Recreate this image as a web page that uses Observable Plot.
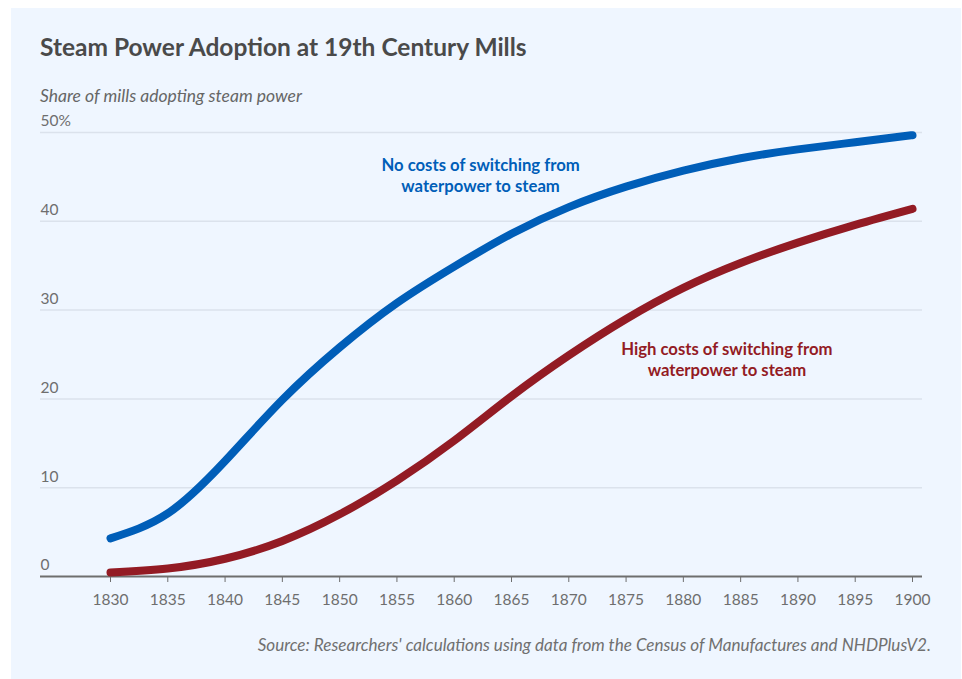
<!DOCTYPE html>
<html>
<head>
<meta charset="utf-8">
<script src="https://cdn.jsdelivr.net/npm/d3@7"></script>
<script src="https://cdn.jsdelivr.net/npm/@observablehq/plot@0.6"></script>
<style>
  html, body { margin: 0; padding: 0; background: #ffffff; }
  body { width: 962px; height: 679px; position: relative; overflow: hidden; font-family: Lato, "Noto Sans", sans-serif; }
  #panel { position: absolute; left: 11px; top: 8px; width: 950px; height: 671px; background: #eff6ff; }
  #chart { position: absolute; left: 0; top: 0; }
  .title { position: absolute; left: 40px; top: 33px; font-size: 24.5px; line-height: 28px; font-weight: 700; color: #4a4a4a; white-space: nowrap; }
  .subtitle { position: absolute; left: 40px; top: 86px; font-size: 17.5px; line-height: 20px; font-style: italic; color: #666666; white-space: nowrap; }
  .caption { position: absolute; right: 31px; top: 635px; font-size: 17.1px; line-height: 20px; font-style: italic; color: #707070; white-space: nowrap; }
</style>
</head>
<body>
<div id="panel"></div>
<div id="chart"></div>
<div class="title">Steam Power Adoption at 19th Century Mills</div>
<div class="subtitle">Share of mills adopting steam power</div>
<div class="caption">Source: Researchers' calculations using data from the Census of Manufactures and NHDPlusV2.</div>
<script>
// Share of mills adopting steam power (%), every five years
const years = [1830, 1835, 1840, 1845, 1850, 1855, 1860, 1865, 1870, 1875, 1880, 1885, 1890, 1895, 1900];
const noCostShare = [4.3, 7.1, 13.0, 19.9, 25.8, 30.8, 34.9, 38.6, 41.6, 43.9, 45.7, 47.1, 48.1, 48.9, 49.7];
const highCostShare = [0.45, 0.9, 2.0, 4.0, 7.0, 10.8, 15.3, 20.3, 24.9, 29.0, 32.5, 35.3, 37.6, 39.6, 41.4];
const yTicks = [0, 10, 20, 30, 40, 50];
const xTicks = years;
const noCostLabel = "No costs of switching from\nwaterpower to steam";
const highCostLabel = "High costs of switching from\nwaterpower to steam";

const blue = "#005eb8";
const red = "#931b24";

const noCost = years.map((year, i) => ({year, share: noCostShare[i]}));
const highCost = years.map((year, i) => ({year, share: highCostShare[i]}));

const chart = Plot.plot({
  width: 962,
  height: 679,
  marginLeft: 110,
  marginRight: 50,
  marginTop: 132,
  marginBottom: 103,
  style: {background: "transparent", fontFamily: "Lato, 'Noto Sans', sans-serif", overflow: "visible"},
  x: {domain: [1830, 1900]},
  y: {domain: [0, 50], axis: null},
  marks: [
    Plot.ruleY(yTicks.filter(d => d > 0), {stroke: "#dbe2ec", strokeWidth: 1.5, insetLeft: -70, insetRight: -10}),
    Plot.ruleY([0], {stroke: "#6e6e6e", strokeWidth: 2, insetLeft: -70, insetRight: -10}),
    Plot.axisX({ticks: xTicks, tickFormat: d => String(d), tickSize: 6, tickPadding: 11, fontSize: 15.5, color: "#6e6e6e", label: null}),
    Plot.text(yTicks, {y: d => d, text: d => d === 50 ? "50%" : String(d), frameAnchor: "left", textAnchor: "start", dx: -70, dy: -11, fontSize: 15.5, fill: "#6e6e6e"}),
    Plot.line(highCost, {x: "year", y: "share", stroke: red, strokeWidth: 8, curve: "natural", strokeLinecap: "round"}),
    Plot.line(noCost, {x: "year", y: "share", stroke: blue, strokeWidth: 8, curve: "natural", strokeLinecap: "round"}),
    Plot.text([noCostLabel], {x: 1862.3, y: 45.2, text: d => d, fill: blue, fontSize: 16.7, fontWeight: 700, lineHeight: 1.26, textAnchor: "middle"}),
    Plot.text([highCostLabel], {x: 1883.8, y: 24.55, text: d => d, fill: red, fontSize: 16.7, fontWeight: 700, lineHeight: 1.26, textAnchor: "middle"})
  ]
});
document.getElementById("chart").appendChild(chart);
</script>
</body>
</html>
